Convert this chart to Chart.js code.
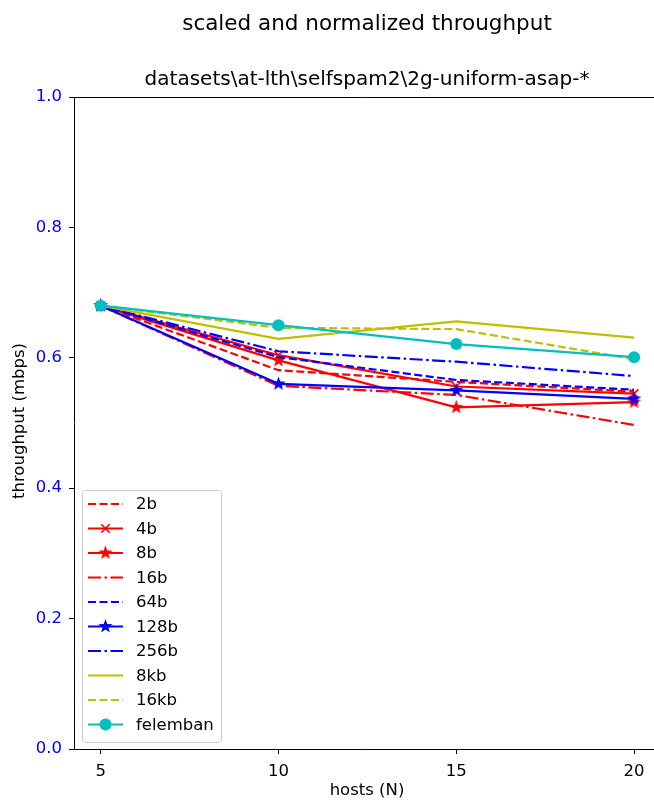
<!DOCTYPE html>
<html>
<head>
<meta charset="utf-8">
<script src="https://cdn.jsdelivr.net/npm/chart.js@4.4.1/dist/chart.umd.min.js"></script>
<style>
  html, body { margin: 0; padding: 0; background: #fff; overflow: hidden; }
  #wrap { width: 654px; height: 803px; position: relative; }
</style>
</head>
<body>
<div id="wrap"><canvas id="chart"></canvas></div>
<script>
// ── Data ─────────────────────────────────────────────────
const hosts = [5, 10, 15, 20];
const yTicks = [0.0, 0.2, 0.4, 0.6, 0.8, 1.0];

const t2b       = [0.68, 0.581, 0.563, 0.548];
const t4b       = [0.68, 0.604, 0.556, 0.545];
const t8b       = [0.68, 0.596, 0.524, 0.532];
const t16b      = [0.68, 0.557, 0.543, 0.497];
const t64b      = [0.68, 0.601, 0.566, 0.551];
const t128b     = [0.68, 0.560, 0.550, 0.537];
const t256b     = [0.68, 0.610, 0.594, 0.572];
const t8kb      = [0.68, 0.629, 0.656, 0.631];
const t16kb     = [0.68, 0.646, 0.644, 0.598];
const tFelemban = [0.68, 0.650, 0.621, 0.601];

// ── Styles ───────────────────────────────────────────────
const FONT = "'DejaVu Sans', sans-serif";
const RED = "#ff0000", BLUE = "#0000ff", YEL = "#bfbf00", CYAN = "#00bfbf";
const LW = 2.2;
const DASH = [8, 3.5];
const DASHDOT = [13, 3.5, 2.5, 3.5];

// filled five-point star, used as a point image
function starImage(color, r) {
  const s = Math.ceil(r * 2 + 2);
  const c = document.createElement("canvas");
  c.width = c.height = s;
  const g = c.getContext("2d");
  g.beginPath();
  for (let i = 0; i < 10; i++) {
    const rad = i % 2 ? r * 0.4 : r;
    const a = -Math.PI / 2 + i * Math.PI / 5;
    g.lineTo(s / 2 + rad * Math.cos(a), s / 2 + rad * Math.sin(a));
  }
  g.closePath();
  g.fillStyle = color;
  g.fill();
  return c;
}
const redStar = starImage(RED, 7.5);
const blueStar = starImage(BLUE, 7.5);

function series(label, data, color, dash, marker) {
  const ds = {
    label, data: data.map((y, i) => ({ x: hosts[i], y })),
    borderColor: color, backgroundColor: color, borderWidth: LW,
    borderDash: dash, pointRadius: 0, tension: 0,
  };
  if (marker === "x") Object.assign(ds, { pointStyle: "crossRot", pointRadius: 6, pointBorderWidth: 1.6 });
  if (marker === "star") Object.assign(ds, { pointStyle: color === RED ? redStar : blueStar, pointRadius: 8 });
  if (marker === "o") Object.assign(ds, { pointStyle: "circle", pointRadius: 6, pointBorderWidth: 0 });
  return ds;
}

const datasets = [
  series("2b", t2b, RED, DASH),
  series("4b", t4b, RED, [], "x"),
  series("8b", t8b, RED, [], "star"),
  series("16b", t16b, RED, DASHDOT),
  series("64b", t64b, BLUE, DASH),
  series("128b", t128b, BLUE, [], "star"),
  series("256b", t256b, BLUE, DASHDOT),
  series("8kb", t8kb, YEL, []),
  series("16kb", t16kb, YEL, DASH),
  series("felemban", tFelemban, CYAN, [], "o"),
];
// later series drawn on top
datasets.forEach((d, i) => { d.order = datasets.length - i; });

// ── Titles, top spine, legend ────────────────────────────
const decor = {
  id: "decor",
  afterDraw(chart) {
    const { ctx, chartArea: a } = chart;
    ctx.save();
    ctx.fillStyle = "#000";
    ctx.textAlign = "center";
    ctx.textBaseline = "middle";
    ctx.font = `21.5px ${FONT}`;
    ctx.fillText("scaled and normalized throughput", 367, 24);
    ctx.font = `20px ${FONT}`;
    ctx.fillText("datasets\\at-lth\\selfspam2\\2g-uniform-asap-*", 367, 80);
    ctx.font = `16.5px ${FONT}`;
    ctx.fillText("hosts (N)", 367, 791);
    ctx.translate(20, 421);
    ctx.rotate(-Math.PI / 2);
    ctx.fillText("throughput (mbps)", 0, 0);
    ctx.restore();

    // top spine
    ctx.save();
    ctx.strokeStyle = "#000";
    ctx.lineWidth = 1;
    ctx.beginPath();
    ctx.moveTo(a.left, a.top + 0.5);
    ctx.lineTo(a.right + 10, a.top + 0.5);
    ctx.stroke();
    ctx.restore();

    // legend box
    ctx.save();
    const bx = 82.5, by = 490.5, bw = 139, bh = 252;
    ctx.beginPath();
    ctx.roundRect(bx, by, bw, bh, 3);
    ctx.fillStyle = "rgba(255,255,255,0.8)";
    ctx.fill();
    ctx.strokeStyle = "#cccccc";
    ctx.lineWidth = 1;
    ctx.stroke();
    chart.data.datasets.forEach((d, i) => {
      const y = 504 + i * 24.5;
      ctx.strokeStyle = d.borderColor;
      ctx.fillStyle = d.borderColor;
      ctx.lineWidth = LW;
      ctx.setLineDash(d.borderDash || []);
      ctx.beginPath();
      ctx.moveTo(88, y);
      ctx.lineTo(123, y);
      ctx.stroke();
      ctx.setLineDash([]);
      if (d.pointRadius > 0) {
        if (d.pointStyle === "circle") {
          ctx.beginPath(); ctx.arc(105.5, y, d.pointRadius, 0, Math.PI * 2); ctx.fill();
        } else {
          ctx.lineWidth = d.pointBorderWidth || 1;
          Chart.helpers.drawPoint(ctx, {
            pointStyle: d.pointStyle, radius: d.pointRadius,
            borderWidth: d.pointBorderWidth || 1, rotation: 0,
          }, 105.5, y);
        }
      }
      ctx.fillStyle = "#000";
      ctx.font = `16.5px ${FONT}`;
      ctx.textAlign = "left";
      ctx.textBaseline = "middle";
      ctx.fillText(d.label, 136, y + 1);
    });
    ctx.restore();
  },
};

// ── Chart ────────────────────────────────────────────────
const tickFont = { family: FONT, size: 16.5 };
new Chart(document.getElementById("chart"), {
  type: "line",
  data: { datasets },
  options: {
    responsive: true,
    maintainAspectRatio: false,
    animation: false,
    layout: { autoPadding: false, padding: { top: 97, right: 0, left: 0, bottom: 0 } },
    plugins: { legend: { display: false }, tooltip: { enabled: false } },
    scales: {
      x: {
        type: "linear", min: 4.25, max: 20.56,
        afterBuildTicks: s => { s.ticks = hosts.map(v => ({ value: v })); },
        afterFit: s => { s.height = 54; s.paddingRight = 0; s.paddingLeft = 0; },
        ticks: { color: "#000", font: tickFont, padding: 8, maxRotation: 0 },
        grid: { drawOnChartArea: false, drawTicks: true, tickLength: 5, color: "#000" },
        border: { display: true, color: "#000", width: 1 },
      },
      y: {
        min: 0, max: 1,
        afterBuildTicks: s => { s.ticks = yTicks.map(v => ({ value: v })); },
        afterFit: s => { s.width = 74; },
        ticks: { color: BLUE, font: tickFont, padding: 7, callback: v => v.toFixed(1) },
        grid: { drawOnChartArea: false, drawTicks: true, tickLength: 5, color: "#000" },
        border: { display: true, color: "#000", width: 1 },
      },
    },
  },
  plugins: [decor],
});
</script>
</body>
</html>
